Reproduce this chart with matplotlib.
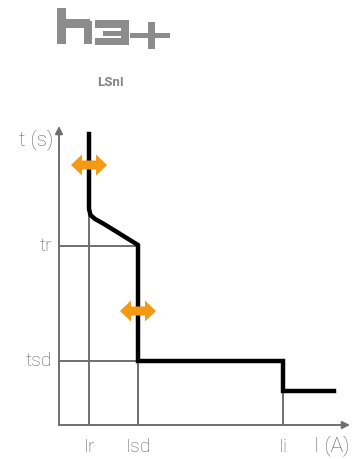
import matplotlib
matplotlib.use("Agg")
import matplotlib.pyplot as plt
from matplotlib.patches import Rectangle, Polygon

# Точки кривой срабатывания (условные единицы)
curve_x = [3.0, 3.0, 3.15, 3.6, 4.5, 7.9, 7.9, 22.4, 22.4, 27.5]
curve_t = [29.1, 21.6, 21.0, 20.6, 20.1, 18.0, 6.4, 6.4, 3.4, 3.4]

# Уставки
current_ticks = [3.0, 7.9, 22.4]
current_labels = ['Ir', 'Isd', 'Ii']
time_ticks = [17.9, 6.4]
time_labels = ['tr', 'tsd']

# Двусторонние стрелки регулировки (центры)
arrow_x = [3.0, 7.9]
arrow_t = [26.0, 11.4]

gray = '#6f6f6f'
text_gray = '#606060'
orange = '#f39a12'
plt.rcParams['font.family'] = ['Roboto', 'DejaVu Sans']

fig = plt.figure(figsize=(3.52, 4.59), dpi=100)

# Логотип h3+ в пиксельных координатах
logo = fig.add_axes([0, 0, 1, 1])
logo.set_xlim(0, 352)
logo.set_ylim(459, 0)
logo.axis('off')
logo_gray = '#8c8c8c'
for x0, y0, w, h in [(57, 8, 9, 36), (57, 19, 33, 9), (84, 21, 8, 23),
                     (95, 20, 34, 8), (103, 31, 26, 5), (95, 38, 34, 7), (121, 20, 8, 25),
                     (130, 33, 40, 5), (148, 22, 7, 27)]:
    logo.add_patch(Rectangle((x0, y0), w, h, color=logo_gray, lw=0))
logo.add_patch(Polygon([(88, 19), (92, 23), (88, 23)], color=logo_gray, lw=0))
logo.text(110, 83, 'LSnI', ha='center', va='center', fontsize=9.5,
          fontweight='bold', color='#858585')

# Основной график
ax = fig.add_axes([59 / 352, 34 / 459, 291 / 352, 299 / 459])
ax.set_xlim(0, 29.1)
ax.set_ylim(0, 29.9)
ax.axis('off')

# Оси со стрелками
ax.annotate('', xy=(29.1, 0), xytext=(0, 0),
            arrowprops=dict(arrowstyle='-|>', color=gray, lw=1.4, mutation_scale=11,
                            shrinkA=0, shrinkB=0), annotation_clip=False)
ax.annotate('', xy=(0, 29.9), xytext=(0, 0),
            arrowprops=dict(arrowstyle='-|>', color=gray, lw=1.4, mutation_scale=11,
                            shrinkA=0, shrinkB=0), annotation_clip=False)

# Вспомогательные линии
ax.plot([current_ticks[0]] * 2, [0, 21.6], color=gray, lw=1.4)
ax.plot([current_ticks[1]] * 2, [0, 6.4], color=gray, lw=1.4)
ax.plot([current_ticks[2]] * 2, [0, 3.4], color=gray, lw=1.4)
ax.plot([0, current_ticks[1]], [time_ticks[0]] * 2, color=gray, lw=1.4)
ax.plot([0, current_ticks[1]], [time_ticks[1]] * 2, color=gray, lw=1.4)

# Кривая
ax.plot(curve_x, curve_t, color='black', lw=3.2, solid_joinstyle='miter', zorder=3)

# Оранжевые стрелки
for cx, ct in zip(arrow_x, arrow_t):
    hw, hl, hh, sh = 1.8, 1.1, 1.05, 0.45
    pts = [(cx - hw, ct), (cx - hw + hl, ct + hh), (cx - hw + hl, ct + sh),
           (cx + hw - hl, ct + sh), (cx + hw - hl, ct + hh), (cx + hw, ct),
           (cx + hw - hl, ct - hh), (cx + hw - hl, ct - sh), (cx - hw + hl, ct - sh),
           (cx - hw + hl, ct - hh)]
    ax.add_patch(Polygon(pts, closed=True, color=orange, lw=0, zorder=4))

# Подписи
for x, lab in zip(current_ticks, current_labels):
    ax.text(x, -2.2, lab, ha='center', va='center', fontsize=14, fontweight='light', color=text_gray)
for t, lab in zip(time_ticks, time_labels):
    ax.text(-0.7, t, lab, ha='right', va='center', fontsize=14, fontweight='light', color=text_gray)
ax.text(-0.6, 28.5, 't (s)', ha='right', va='center', fontsize=15, fontweight='light', color=text_gray)
ax.text(29.1, -2.1, 'I (A)', ha='right', va='center', fontsize=15, fontweight='light', color=text_gray)

fig.savefig('out.png', dpi=100)
